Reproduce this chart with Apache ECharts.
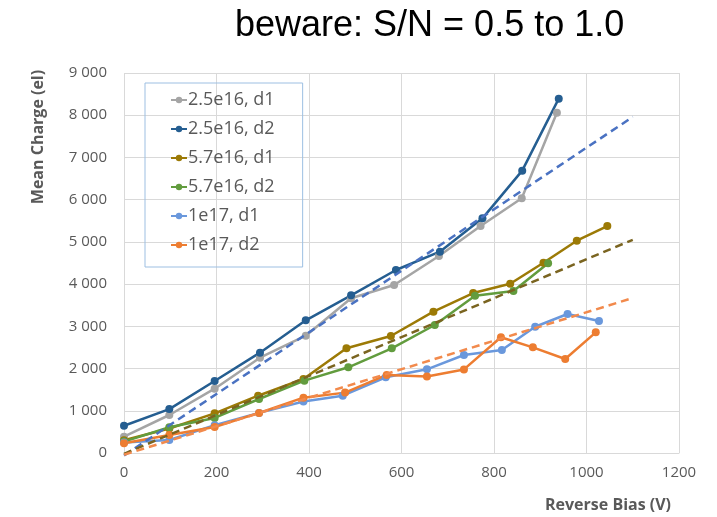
<!DOCTYPE html>
<html>
<head>
<meta charset="utf-8">
<script src="https://cdn.jsdelivr.net/npm/echarts@6/dist/echarts.min.js"></script>
<style>
  html, body { margin: 0; padding: 0; background: #fff; }
  #chart { width: 717px; height: 517px; }
</style>
</head>
<body>
<div id="chart"></div>
<script>
// values: reverse bias (V) and mean charge (el)
const names = ['2.5e16, d1', '2.5e16, d2', '5.7e16, d1', '5.7e16, d2', '1e17, d1', '1e17, d2'];
const colors = ['#a5a5a5', '#255e91', '#9c7a06', '#629c3e', '#6a98dc', '#ed7d31'];

const bias25d1 = [0, 98, 196, 294, 393, 491, 584, 681, 771, 860, 936];
const charge25d1 = [386, 900, 1523, 2257, 2778, 3664, 3979, 4666, 5376, 6032, 8060];
const bias25d2 = [0, 98, 196, 294, 393, 491, 588, 683, 775, 861, 940];
const charge25d2 = [646, 1040, 1705, 2376, 3143, 3735, 4334, 4768, 5558, 6687, 8392];
const bias57d1 = [0, 98, 196, 290, 388, 481, 577, 669, 755, 835, 907, 979, 1045];
const charge57d1 = [300, 580, 940, 1357, 1753, 2480, 2771, 3347, 3789, 4010, 4507, 5028, 5376];
const bias57d2 = [0, 98, 196, 292, 390, 485, 579, 672, 759, 842, 917];
const charge57d2 = [270, 610, 830, 1279, 1713, 2030, 2480, 3032, 3726, 3837, 4492];
const bias1e17d1 = [0, 98, 196, 292, 388, 473, 566, 655, 735, 817, 889, 959, 1027];
const charge1e17d1 = [250, 308, 660, 950, 1220, 1357, 1793, 1982, 2321, 2440, 2990, 3292, 3126];
const bias1e17d2 = [0, 98, 196, 292, 388, 478, 568, 655, 735, 815, 884, 954, 1020];
const charge1e17d2 = [230, 426, 615, 950, 1310, 1430, 1850, 1810, 1980, 2740, 2503, 2226, 2858];

// dashed linear trend lines
const trendBias = [0, 1100];
const trendBlue = [-60, 7960];
const trendOlive = [-20, 5050];
const trendOrange = [-40, 3670];
const trendColors = ['#4a72c2', '#7a6420', '#f28a4c'];

const xTicks = ['0', '200', '400', '600', '800', '1000', '1200'];
const yTicks = ['0', '1 000', '2 000', '3 000', '4 000', '5 000', '6 000', '7 000', '8 000', '9 000'];

const biasSets = [bias25d1, bias25d2, bias57d1, bias57d2, bias1e17d1, bias1e17d2];
const chargeSets = [charge25d1, charge25d2, charge57d1, charge57d2, charge1e17d1, charge1e17d2];
const trendSets = [trendBlue, trendOlive, trendOrange];

const zip = (xs, ys) => xs.map((x, i) => [x, ys[i]]);

const chart = echarts.init(document.getElementById('chart'));

const series = names.map((name, i) => ({
  name: name,
  type: 'line',
  data: zip(biasSets[i], chargeSets[i]),
  symbol: 'circle',
  symbolSize: 8,
  color: colors[i],
  lineStyle: { width: 2.5 },
  emphasis: { disabled: true },
  z: 3,
}));

trendSets.forEach((t, i) => {
  series.push({
    type: 'line',
    data: zip(trendBias, t),
    symbol: 'none',
    color: trendColors[i],
    lineStyle: { width: 2.5, type: [8, 5] },
    clip: false,
    emphasis: { disabled: true },
    z: 4,
  });
});

chart.setOption({
  animation: false,
  textStyle: { fontFamily: 'Open Sans' },
  title: {
    text: 'beware: S/N = 0.5 to 1.0',
    left: 230,
    top: 3,
    textStyle: { fontFamily: 'Liberation Sans', fontSize: 36, fontWeight: 'normal', color: '#000' },
  },
  grid: { left: 124, right: 38, top: 73, bottom: 64 },
  legend: {
    data: names,
    orient: 'vertical',
    left: 145,
    top: 83,
    padding: [7, 28, 12, 25],
    borderColor: '#9dbfe2',
    borderWidth: 1,
    itemWidth: 16,
    itemHeight: 8,
    itemGap: 9,
    textStyle: { fontSize: 18, color: '#595959', lineHeight: 20, padding: [0, 0, 0, -4] },
  },
  xAxis: {
    type: 'value',
    min: 0,
    max: 1200,
    interval: 200,
    axisLine: { lineStyle: { color: '#d9d9d9' } },
    axisTick: { show: false },
    axisLabel: { color: '#595959', fontSize: 15, margin: 12, formatter: v => xTicks[v / 200] },
    splitLine: { lineStyle: { color: '#d9d9d9' } },
  },
  yAxis: {
    type: 'value',
    min: 0,
    max: 9000,
    interval: 1000,
    axisLine: { show: false },
    axisTick: { show: false },
    axisLabel: { color: '#595959', fontSize: 15, margin: 17, formatter: v => yTicks[v / 1000] },
    splitLine: { lineStyle: { color: '#d9d9d9' } },
  },
  graphic: [
    {
      type: 'text',
      x: 38,
      y: 137,
      rotation: Math.PI / 2,
      style: {
        text: 'Mean Charge (el)',
        fill: '#595959',
        font: 'bold 16px "Open Sans"',
        textAlign: 'center',
        textVerticalAlign: 'middle',
      },
    },
    {
      type: 'text',
      x: 608,
      y: 505,
      style: {
        text: 'Reverse Bias (V)',
        fill: '#595959',
        font: 'bold 16px "Open Sans"',
        textAlign: 'center',
        textVerticalAlign: 'middle',
      },
    },
  ],
  series: series,
});
</script>
</body>
</html>
